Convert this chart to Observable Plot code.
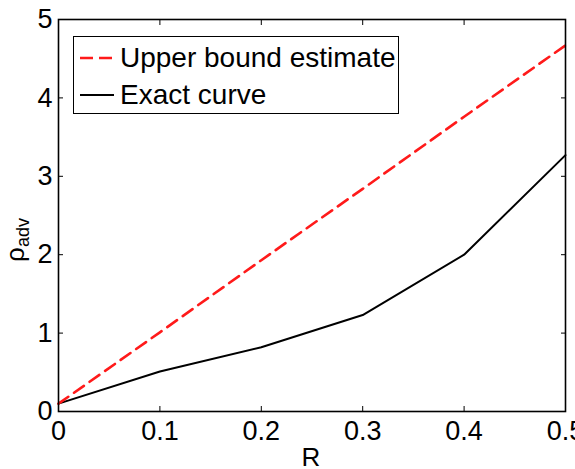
<!DOCTYPE html>
<html>
<head>
<meta charset="utf-8">
<script src="https://cdn.jsdelivr.net/npm/d3@7"></script>
<script src="https://cdn.jsdelivr.net/npm/@observablehq/plot@0.6"></script>
<style>
  html, body { margin: 0; padding: 0; background: #fff; }
  #wrap { position: relative; width: 575px; height: 469px; }
  #legend { position: absolute; left: 73px; top: 36px; width: 324px; height: 76px;
    border: 1.5px solid #000; background: #fff; font-family: "Liberation Sans", Arial, sans-serif;
    font-size: 28px; box-sizing: content-box; }
  .row { position: absolute; left: 0; height: 37px; display: flex; align-items: center; white-space: nowrap; }
  .row svg { margin-left: 6px; margin-right: 6px; }
</style>
</head>
<body>
<div id="wrap"></div>
<script>
const R = [0, 0.1, 0.2, 0.3, 0.4, 0.5];
const upperBound = [0.1, 1.01, 1.93, 2.84, 3.76, 4.67];
const exactCurve = [0.1, 0.51, 0.82, 1.23, 2.0, 3.27];
const xTicks = [0, 0.1, 0.2, 0.3, 0.4, 0.5];
const yTicks = [0, 1, 2, 3, 4, 5];
const seriesNames = ["Upper bound estimate", "Exact curve"];

const upperData = R.map((r, i) => ({R: r, v: upperBound[i]}));
const exactData = R.map((r, i) => ({R: r, v: exactCurve[i]}));

const font = "Liberation Sans, Arial, sans-serif";

const chart = Plot.plot({
  width: 575,
  height: 469,
  marginLeft: 58,
  marginRight: 10,
  marginTop: 19,
  marginBottom: 58,
  style: {fontFamily: font, fontSize: "27px", background: "#fff", color: "#000"},
  x: {domain: [0, 0.5]},
  y: {domain: [0, 5]},
  marks: [
    Plot.line(exactData, {x: "R", y: "v", stroke: "#000", strokeWidth: 2}),
    Plot.line(upperData, {x: "R", y: "v", stroke: "#ff1a1a", strokeWidth: 2.6, strokeDasharray: "12,7"}),
    Plot.axisX({ticks: xTicks, anchor: "bottom", tickSize: -5, tickPadding: 14, tickFormat: d => String(d), label: null, fontSize: 27}),
    Plot.axisX({ticks: xTicks, anchor: "top", tickSize: -5, tickFormat: () => "", label: null}),
    Plot.axisY({ticks: yTicks, anchor: "left", tickSize: -5, tickPadding: 11, tickFormat: d => String(d), label: null, fontSize: 27}),
    Plot.axisY({ticks: yTicks, anchor: "right", tickSize: -5, tickFormat: () => "", label: null}),
    Plot.frame({stroke: "#000", strokeWidth: 1.6})
  ]
});

document.getElementById("wrap").appendChild(chart);

const svg = d3.select(chart);
// x axis label
svg.append("text")
  .attr("x", 311).attr("y", 466)
  .attr("text-anchor", "middle")
  .attr("font-family", font).attr("font-size", 26)
  .text("R");
// y axis label with subscript
const yl = svg.append("text")
  .attr("transform", "translate(24,240) rotate(-90)")
  .attr("font-family", font).attr("font-size", 26);
yl.append("tspan").text("ρ");
yl.append("tspan").attr("dy", 5).attr("font-size", 18).text("adv");

// legend
const legend = document.createElement("div");
legend.id = "legend";
const styles = [{stroke: "#ff1a1a", dash: "13,6", w: 2.6}, {stroke: "#000", dash: null, w: 2}];
seriesNames.forEach((name, i) => {
  const row = document.createElement("div");
  row.className = "row";
  row.style.top = (2 + i * 37) + "px";
  const s = d3.create("svg").attr("width", 34).attr("height", 10);
  s.append("line").attr("x1", 0).attr("x2", 34).attr("y1", 5).attr("y2", 5)
    .attr("stroke", styles[i].stroke).attr("stroke-width", styles[i].w)
    .attr("stroke-dasharray", styles[i].dash);
  row.appendChild(s.node());
  const t = document.createElement("span");
  t.textContent = name;
  row.appendChild(t);
  legend.appendChild(row);
});
document.getElementById("wrap").appendChild(legend);
</script>
</body>
</html>
